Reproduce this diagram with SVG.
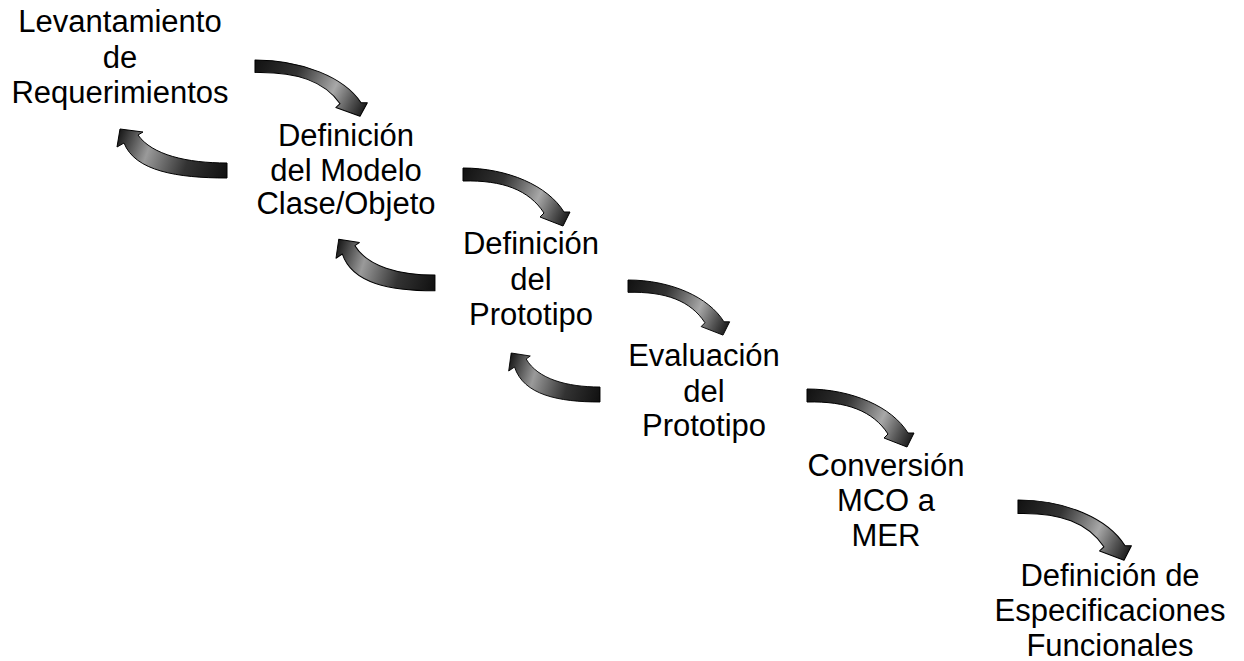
<svg xmlns="http://www.w3.org/2000/svg" width="1244" height="661" viewBox="0 0 1244 661">
<style>
  .lbl { font-family: "Liberation Sans", Arial, sans-serif; font-size: 31px; fill: #000; text-anchor: middle; }
  .fwd { fill: url(#gf); stroke: #000; stroke-width: 1; stroke-linejoin: round; }
  .bwd { fill: url(#gb); stroke: #000; stroke-width: 1; stroke-linejoin: round; }
</style>
<defs>
  <linearGradient id="gf" gradientUnits="userSpaceOnUse" x1="0" y1="0" x2="108" y2="50">
    <stop offset="0" stop-color="#111"/>
    <stop offset="0.35" stop-color="#333"/>
    <stop offset="0.68" stop-color="#a8a8a8"/>
    <stop offset="0.85" stop-color="#555"/>
    <stop offset="1" stop-color="#111"/>
  </linearGradient>
  <linearGradient id="gb" gradientUnits="userSpaceOnUse" x1="0" y1="10" x2="-110" y2="-30">
    <stop offset="0" stop-color="#111"/>
    <stop offset="0.35" stop-color="#333"/>
    <stop offset="0.7" stop-color="#9a9a9a"/>
    <stop offset="0.85" stop-color="#555"/>
    <stop offset="1" stop-color="#111"/>
  </linearGradient>
  <path id="fa" d="M0,0 C45,0 85,18 101,44 L107,44 L100,58 L77,49 L81,45 C66,22 40,12 0,13 Z"/>
  <path id="ba" d="M0,0 C-40,0 -75,-8 -89,-28 L-84,-31 L-107,-34 L-110,-16 L-103,-20 C-92,8 -50,15 0,15 Z"/>
</defs>
<rect width="1244" height="661" fill="#fff"/>

<g id="connectors">
  <use href="#fa" class="fwd" transform="translate(255,60) scale(1.05,0.97)"/>
  <use href="#fa" class="fwd" transform="translate(463,168)"/>
  <use href="#fa" class="fwd" transform="translate(628,280) scale(0.95)"/>
  <use href="#fa" class="fwd" transform="translate(807,389)"/>
  <use href="#fa" class="fwd" transform="translate(1018,500) scale(1.06,1.04)"/>
  <use href="#ba" class="bwd" transform="translate(227,163)"/>
  <use href="#ba" class="bwd" transform="translate(435,275) scale(0.9,1.05)"/>
  <use href="#ba" class="bwd" transform="translate(600,387) scale(0.83,1)"/>
</g>

<g id="n1"><text class="lbl" x="120" y="32">Levantamiento</text><text class="lbl" x="120" y="68">de</text><text class="lbl" x="120" y="103">Requerimientos</text></g>
<g id="n2"><text class="lbl" x="346" y="146">Definición</text><text class="lbl" x="346" y="181">del Modelo</text><text class="lbl" x="346" y="214">Clase/Objeto</text></g>
<g id="n3"><text class="lbl" x="531" y="254">Definición</text><text class="lbl" x="531" y="290">del</text><text class="lbl" x="531" y="325">Prototipo</text></g>
<g id="n4"><text class="lbl" x="704" y="366">Evaluación</text><text class="lbl" x="704" y="402">del</text><text class="lbl" x="704" y="436">Prototipo</text></g>
<g id="n5"><text class="lbl" x="886" y="476">Conversión</text><text class="lbl" x="886" y="511">MCO a</text><text class="lbl" x="886" y="546">MER</text></g>
<g id="n6"><text class="lbl" x="1110" y="586">Definición de</text><text class="lbl" x="1110" y="621">Especificaciones</text><text class="lbl" x="1110" y="656">Funcionales</text></g>
</svg>
